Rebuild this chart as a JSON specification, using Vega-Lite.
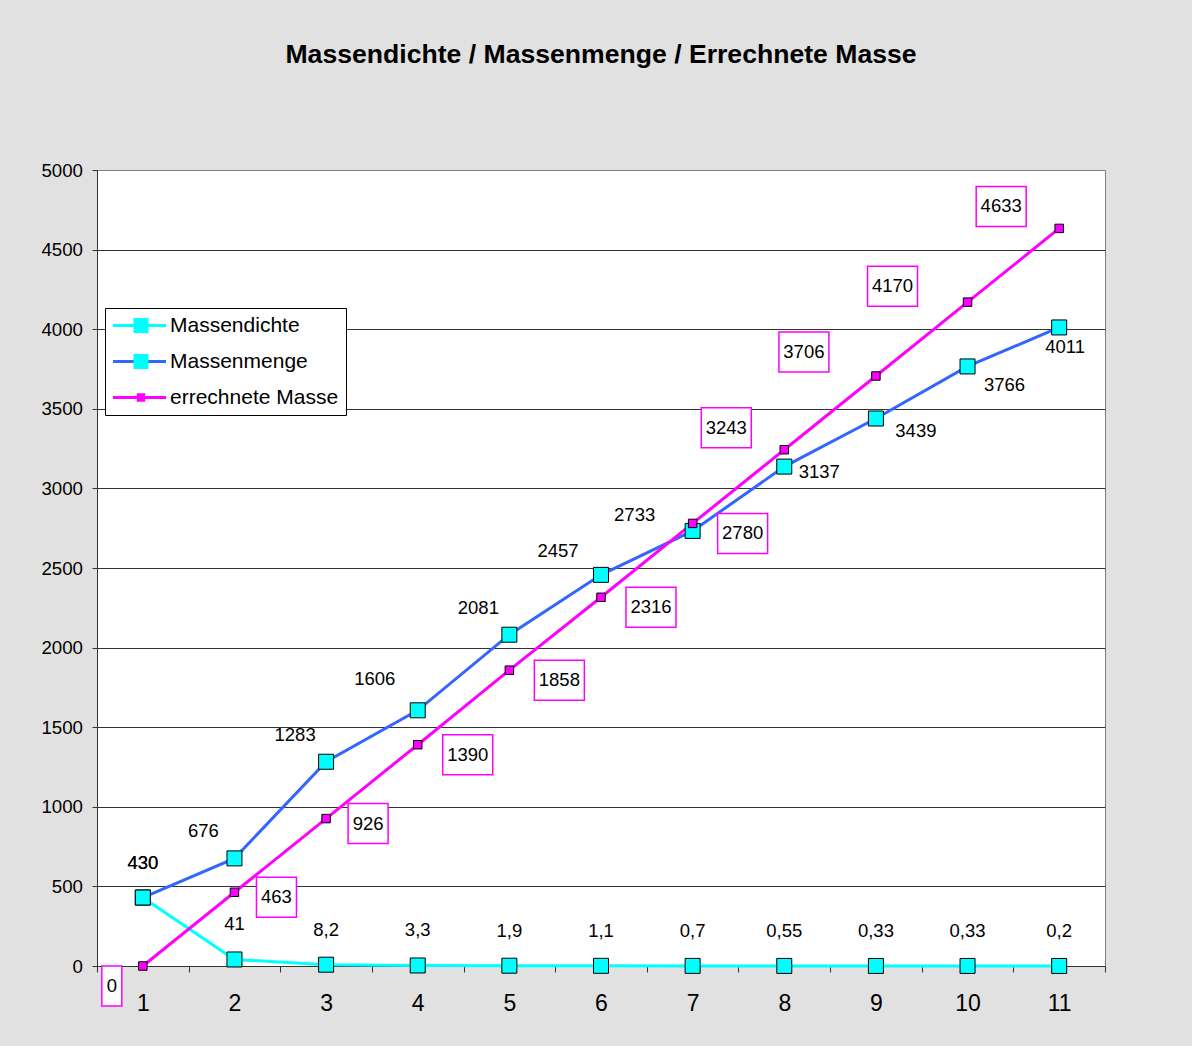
{
  "$schema": "https://vega.github.io/schema/vega-lite/v6.json",
  "width": 1008,
  "height": 796,
  "autosize": "none",
  "padding": {"left": 97, "top": 170, "right": 87, "bottom": 80},
  "background": "#e1e1e1",
  "title": {"text": "Massendichte / Massenmenge / Errechnete Masse", "font": "Liberation Sans", "fontSize": 26.6, "fontWeight": "bold", "color": "#000000", "offset": 92, "anchor": "middle"},
  "config": {
    "view": {"fill": "#ffffff", "stroke": "#808080", "strokeWidth": 1},
    "locale": {"number": {"decimal": ",", "thousands": ".", "grouping": [3], "currency": ["", " €"]}},
    "text": {"font": "Liberation Sans", "fontSize": 18.5, "color": "#000000", "baseline": "middle", "align": "center"},
    "axis": {"labelFont": "Liberation Sans", "labelColor": "#000000"},
    "legend": {"labelFont": "Liberation Sans", "labelFontSize": 21, "labelColor": "#000000", "labelLimit": 400}
  },
  "data": {"values": [
    {"x": 1, "series": "Massendichte", "value": 430},
    {"x": 2, "series": "Massendichte", "value": 41},
    {"x": 3, "series": "Massendichte", "value": 8.2},
    {"x": 4, "series": "Massendichte", "value": 3.3},
    {"x": 5, "series": "Massendichte", "value": 1.9},
    {"x": 6, "series": "Massendichte", "value": 1.1},
    {"x": 7, "series": "Massendichte", "value": 0.7},
    {"x": 8, "series": "Massendichte", "value": 0.55},
    {"x": 9, "series": "Massendichte", "value": 0.33},
    {"x": 10, "series": "Massendichte", "value": 0.33},
    {"x": 11, "series": "Massendichte", "value": 0.2},
    {"x": 1, "series": "Massenmenge", "value": 430},
    {"x": 2, "series": "Massenmenge", "value": 676},
    {"x": 3, "series": "Massenmenge", "value": 1283},
    {"x": 4, "series": "Massenmenge", "value": 1606},
    {"x": 5, "series": "Massenmenge", "value": 2081},
    {"x": 6, "series": "Massenmenge", "value": 2457},
    {"x": 7, "series": "Massenmenge", "value": 2733},
    {"x": 8, "series": "Massenmenge", "value": 3137},
    {"x": 9, "series": "Massenmenge", "value": 3439},
    {"x": 10, "series": "Massenmenge", "value": 3766},
    {"x": 11, "series": "Massenmenge", "value": 4011},
    {"x": 1, "series": "errechnete Masse", "value": 0},
    {"x": 2, "series": "errechnete Masse", "value": 463},
    {"x": 3, "series": "errechnete Masse", "value": 926},
    {"x": 4, "series": "errechnete Masse", "value": 1390},
    {"x": 5, "series": "errechnete Masse", "value": 1858},
    {"x": 6, "series": "errechnete Masse", "value": 2316},
    {"x": 7, "series": "errechnete Masse", "value": 2780},
    {"x": 8, "series": "errechnete Masse", "value": 3243},
    {"x": 9, "series": "errechnete Masse", "value": 3706},
    {"x": 10, "series": "errechnete Masse", "value": 4170},
    {"x": 11, "series": "errechnete Masse", "value": 4633}
  ]},
  "encoding": {
    "x": {"field": "x", "type": "ordinal", "bandPosition": 0.5,
      "scale": {"type": "band", "paddingInner": 0, "paddingOuter": 0},
      "axis": {"title": null, "labelAngle": 0, "labelFontSize": 23, "labelPadding": 20, "tickBand": "extent", "tickSize": 6, "tickColor": "#333333", "domainColor": "#333333", "grid": false}},
    "y": {"field": "value", "type": "quantitative",
      "scale": {"domain": [0, 5000], "nice": false},
      "axis": {"title": null, "values": [0, 500, 1000, 1500, 2000, 2500, 3000, 3500, 4000, 4500, 5000], "format": "d", "labelFontSize": 18.7, "labelPadding": 9.5, "tickSize": 5, "tickColor": "#333333", "domainColor": "#333333", "grid": true, "gridWidth": 1,
        "gridColor": {"condition": {"test": "datum.value === 5000", "value": "#808080"}, "value": "#333333"}}}
  },
  "layer": [
    {
      "mark": {"type": "line", "strokeWidth": 3},
      "encoding": {
        "color": {"field": "series", "type": "nominal",
          "scale": {"domain": ["Massendichte", "Massenmenge", "errechnete Masse"], "range": ["#00ffff", "#3366ff", "#ff00ff"]},
          "legend": {"title": null, "orient": "none", "legendX": 8, "legendY": 138, "padding": 7, "fillColor": "#ffffff", "strokeColor": "#000000", "symbolType": "M-1.19,0H5.44", "symbolSize": 256, "symbolStrokeWidth": 3, "labelOffset": 37, "rowPadding": 14, "labelFontSize": 21}}
      }
    },
    {
      "mark": {"type": "point", "shape": "square", "filled": true, "stroke": "#000000", "strokeWidth": 1, "opacity": 1},
      "encoding": {
        "fill": {"field": "series", "type": "nominal",
          "scale": {"range": ["#00ffff", "#00ffff", "#ff00ff"]},
          "legend": {"title": null, "orient": "none", "legendX": 8, "legendY": 119.5, "padding": 25.5, "symbolType": "square", "symbolStrokeColor": "#000000", "symbolStrokeWidth": 1, "labelOffset": 37, "rowPadding": 14, "labelOpacity": 0, "labelExpr": "' '", "labelFontSize": 21}},
        "size": {"field": "series", "type": "nominal",
          "scale": {"type": "ordinal", "range": [225, 225, 72]},
          "legend": {"title": null, "orient": "none", "legendX": 8, "legendY": 119.5, "padding": 25.5, "symbolType": "square", "symbolStrokeColor": "#000000", "symbolStrokeWidth": 1, "labelOffset": 37, "rowPadding": 14, "labelOpacity": 0, "labelExpr": "' '", "labelFontSize": 21}}
      }
    },
    {
      "transform": [{"filter": {"or": [{"field": "series", "equal": "Massendichte"}, {"and": [{"field": "series", "equal": "Massenmenge"}, {"field": "x", "equal": 1}]}]}}],
      "mark": {"type": "text", "dy": -35},
      "encoding": {"text": {"field": "value", "type": "quantitative", "format": "~g"}}
    },
    {
      "transform": [{"filter": {"and": [{"field": "series", "equal": "Massenmenge"}, {"field": "x", "oneOf": [2, 3, 5]}]}}],
      "mark": {"type": "text", "dx": -31, "dy": -27},
      "encoding": {"text": {"field": "value", "type": "quantitative", "format": "~g"}}
    },
    {
      "transform": [{"filter": {"and": [{"field": "series", "equal": "Massenmenge"}, {"field": "x", "equal": 4}]}}],
      "mark": {"type": "text", "dx": -43, "dy": -31},
      "encoding": {"text": {"field": "value", "type": "quantitative", "format": "~g"}}
    },
    {
      "transform": [{"filter": {"and": [{"field": "series", "equal": "Massenmenge"}, {"field": "x", "equal": 6}]}}],
      "mark": {"type": "text", "dx": -43, "dy": -24},
      "encoding": {"text": {"field": "value", "type": "quantitative", "format": "~g"}}
    },
    {
      "transform": [{"filter": {"and": [{"field": "series", "equal": "Massenmenge"}, {"field": "x", "equal": 7}]}}],
      "mark": {"type": "text", "dx": -58, "dy": -16},
      "encoding": {"text": {"field": "value", "type": "quantitative", "format": "~g"}}
    },
    {
      "transform": [{"filter": {"and": [{"field": "series", "equal": "Massenmenge"}, {"field": "x", "equal": 8}]}}],
      "mark": {"type": "text", "dx": 35, "dy": 5},
      "encoding": {"text": {"field": "value", "type": "quantitative", "format": "~g"}}
    },
    {
      "transform": [{"filter": {"and": [{"field": "series", "equal": "Massenmenge"}, {"field": "x", "equal": 9}]}}],
      "mark": {"type": "text", "dx": 40, "dy": 12},
      "encoding": {"text": {"field": "value", "type": "quantitative", "format": "~g"}}
    },
    {
      "transform": [{"filter": {"and": [{"field": "series", "equal": "Massenmenge"}, {"field": "x", "equal": 10}]}}],
      "mark": {"type": "text", "dx": 37, "dy": 19},
      "encoding": {"text": {"field": "value", "type": "quantitative", "format": "~g"}}
    },
    {
      "transform": [{"filter": {"and": [{"field": "series", "equal": "Massenmenge"}, {"field": "x", "equal": 11}]}}],
      "mark": {"type": "text", "dx": 6, "dy": 20},
      "encoding": {"text": {"field": "value", "type": "quantitative", "format": "~g"}}
    },
    {
      "transform": [{"filter": {"and": [{"field": "series", "equal": "errechnete Masse"}, {"field": "x", "equal": 1}]}}],
      "layer": [
        {"mark": {"type": "point", "shape": "M-0.5,-1H0.5V1H-0.5Z", "size": 1600, "filled": true, "fill": "#ffffff", "stroke": "#ff00ff", "strokeWidth": 1.5, "opacity": 1, "xOffset": -31, "yOffset": 20}},
        {"mark": {"type": "text", "dx": -31, "dy": 20}, "encoding": {"text": {"field": "value", "type": "quantitative", "format": "~g"}}}
      ]
    },
    {
      "transform": [{"filter": {"and": [{"field": "series", "equal": "errechnete Masse"}, {"field": "x", "oneOf": [2, 3]}]}}],
      "layer": [
        {"mark": {"type": "point", "shape": "M-1,-1H1V1H-1Z", "size": 1600, "filled": true, "fill": "#ffffff", "stroke": "#ff00ff", "strokeWidth": 1.5, "opacity": 1, "xOffset": 42, "yOffset": 5}},
        {"mark": {"type": "text", "dx": 42, "dy": 5}, "encoding": {"text": {"field": "value", "type": "quantitative", "format": "~g"}}}
      ]
    },
    {
      "transform": [{"filter": {"and": [{"field": "series", "equal": "errechnete Masse"}, {"field": "x", "oneOf": [4, 5, 6, 7]}]}}],
      "layer": [
        {"mark": {"type": "point", "shape": "M-1.25,-1H1.25V1H-1.25Z", "size": 1600, "filled": true, "fill": "#ffffff", "stroke": "#ff00ff", "strokeWidth": 1.5, "opacity": 1, "xOffset": 50, "yOffset": 10}},
        {"mark": {"type": "text", "dx": 50, "dy": 10}, "encoding": {"text": {"field": "value", "type": "quantitative", "format": "~g"}}}
      ]
    },
    {
      "transform": [{"filter": {"and": [{"field": "series", "equal": "errechnete Masse"}, {"field": "x", "oneOf": [8, 11]}]}}],
      "layer": [
        {"mark": {"type": "point", "shape": "M-1.25,-1H1.25V1H-1.25Z", "size": 1600, "filled": true, "fill": "#ffffff", "stroke": "#ff00ff", "strokeWidth": 1.5, "opacity": 1, "xOffset": -58, "yOffset": -22}},
        {"mark": {"type": "text", "dx": -58, "dy": -22}, "encoding": {"text": {"field": "value", "type": "quantitative", "format": "~g"}}}
      ]
    },
    {
      "transform": [{"filter": {"and": [{"field": "series", "equal": "errechnete Masse"}, {"field": "x", "equal": 9}]}}],
      "layer": [
        {"mark": {"type": "point", "shape": "M-1.25,-1H1.25V1H-1.25Z", "size": 1600, "filled": true, "fill": "#ffffff", "stroke": "#ff00ff", "strokeWidth": 1.5, "opacity": 1, "xOffset": -72, "yOffset": -24}},
        {"mark": {"type": "text", "dx": -72, "dy": -24}, "encoding": {"text": {"field": "value", "type": "quantitative", "format": "~g"}}}
      ]
    },
    {
      "transform": [{"filter": {"and": [{"field": "series", "equal": "errechnete Masse"}, {"field": "x", "equal": 10}]}}],
      "layer": [
        {"mark": {"type": "point", "shape": "M-1.25,-1H1.25V1H-1.25Z", "size": 1600, "filled": true, "fill": "#ffffff", "stroke": "#ff00ff", "strokeWidth": 1.5, "opacity": 1, "xOffset": -75, "yOffset": -16}},
        {"mark": {"type": "text", "dx": -75, "dy": -16}, "encoding": {"text": {"field": "value", "type": "quantitative", "format": "~g"}}}
      ]
    }
  ]
}
